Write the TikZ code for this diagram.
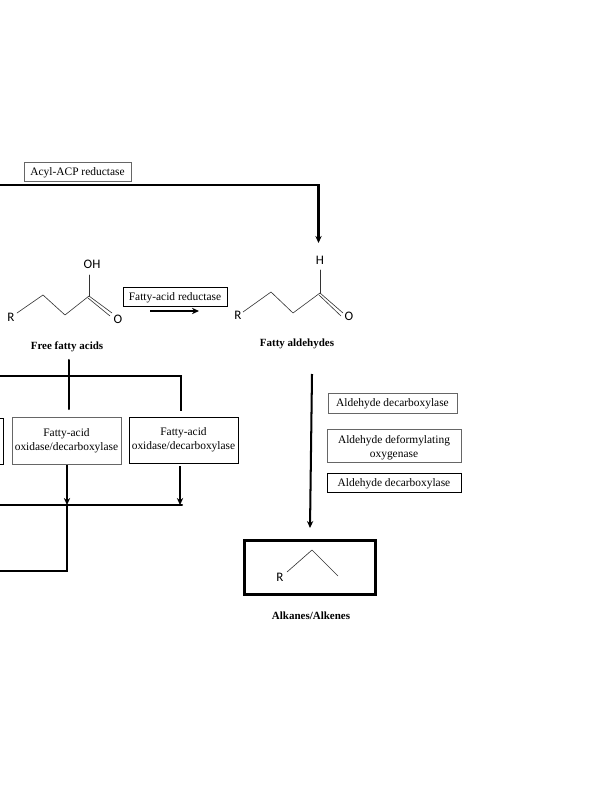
\documentclass[tikz,border=0pt]{standalone}
\usepackage{amsmath, amssymb, amsthm}
\usepackage{fontspec}
\setmainfont{Liberation Serif}
\newfontfamily\molfont{Carlito}
\usepackage{tikz}
\usetikzlibrary{calc, arrows.meta}
\usepackage{tkz-euclide}
\tikzset{
  enzbox/.style={draw=black, line width=0.45pt, fill=white, align=center, inner sep=0pt, font=\fontsize{6.5}{8}\selectfont},
  graybox/.style={enzbox, draw=black!60},
  oneline/.style={text height=5pt, text depth=1pt},
  cmpd/.style={font=\bfseries\fontsize{6.25}{7}\selectfont},
  atom/.style={font=\molfont\fontsize{7.4}{8}\selectfont, inner sep=0pt},
  flow/.style={line width=1.15pt},
  flowarr/.style={flow, -{Stealth[length=4pt, width=3.6pt]}},
  bond/.style={line width=0.35pt, black!80}
}

\begin{document}
\begin{tikzpicture}[x=0.02cm, y=-0.02cm]
                \useasboundingbox (0,0) rectangle (599,800);
                % free fatty acid
                \tkzDefPoints{17/313/Ra, 43/295/Rb, 65/315/Rc, 89/296/Rd, 89/275/Re, 112/313/Rf, 88/298/Rg, 110/316/Rh}
                % aldehyde
                \tkzDefPoints{243/312/Aa, 271/292/Ab, 293/313/Ac, 320/293/Ad, 320/270/Ae, 343/313/Af, 319/295/Ag, 341/316/Ah}
                % alkane
                \tkzDefPoints{287/572/La, 312/550/Lb, 338/576/Lc}
                \tkzDrawSegments[bond](Ra,Rb Rb,Rc Rc,Rd Rd,Re Rd,Rf Rg,Rh)
                \tkzDrawSegments[bond](Aa,Ab Ab,Ac Ac,Ad Ad,Ae Ad,Af Ag,Ah)
                \tkzDrawSegments[bond](La,Lb Lb,Lc)
                \node[atom] (ohR) at (11,317) {R};
                \node[atom] (ohOH) at (92,264) {OH};
                \node[atom] (ohO) at (118,319) {O};
                \node[atom] (alR) at (238,315) {R};
                \node[atom] (alH) at (320,260) {H};
                \node[atom] (alO) at (349,316) {O};
                \node[atom] (lkR) at (280,577) {R};
                \node[cmpd] (ffa) at (67,347) {Free fatty acids};
                \node[cmpd] (fald) at (297,344) {Fatty aldehydes};
                \node[cmpd] (alk) at (311,616) {Alkanes/Alkenes};
                % enzymes
                \node[graybox, oneline, minimum width=107*0.02cm, minimum height=19*0.02cm] (acyl) at (77.5,171.5) {Acyl-ACP reductase};
                \node[enzbox, oneline, minimum width=104*0.02cm, minimum height=19*0.02cm] (far) at (175,296.5) {Fatty-acid reductase};
                \node[graybox, minimum width=109*0.02cm, minimum height=47*0.02cm] (oxA) at (66.5,440.5) {Fatty-acid\\oxidase/decarboxylase};
                \node[enzbox, minimum width=109*0.02cm, minimum height=46*0.02cm] (oxB) at (183.5,440) {Fatty-acid\\oxidase/decarboxylase};
                \node[enzbox, minimum width=109*0.02cm, minimum height=46*0.02cm] (oxC) at (-51.5,441) {};
                \node[graybox, oneline, minimum width=129*0.02cm, minimum height=20*0.02cm] (adA) at (392.5,403) {Aldehyde decarboxylase};
                \node[graybox, minimum width=134*0.02cm, minimum height=33*0.02cm] (ado) at (394,445.5) {\rule{0pt}{7.3pt}Aldehyde deformylating\\oxygenase};
                \node[enzbox, oneline, minimum width=134*0.02cm, minimum height=19*0.02cm] (adB) at (394,482.5) {Aldehyde decarboxylase};
                \node[draw, line width=1.15pt, minimum width=131*0.02cm, minimum height=54*0.02cm, inner sep=0pt] (lkbox) at (310,567.5) {};
                % connectors
                \tkzDefPoints{-2/185/a, 318.5/185/b, 318.5/243/c, 150/311/d, 199/311/e, 69/360/f, 69/376/g, 69/409/h, -2/376/i, 181/376/j, 181/411/k}
                \tkzDefPoints{67/465/l, 67/505/m, 180/466/n, 180/505/o, -2/505/p, 182/505/q, 67/571/r, -2/571/s, 312/374/t, 310/528/u}
                \draw[flowarr] (a) -- (b) -- (c);
                \draw[flowarr] (d) -- (e);
                \tkzDrawSegments[flow](f,h i,j)
                \draw[flow] (g) -- (j) -- (k);
                \draw[flowarr] (l) -- (m);
                \draw[flowarr] (n) -- (o);
                \tkzDrawSegments[flow](p,q)
                \draw[flow] (m) -- (r) -- (s);
                \draw[flowarr] (t) -- (u);
\end{tikzpicture}
\end{document}
